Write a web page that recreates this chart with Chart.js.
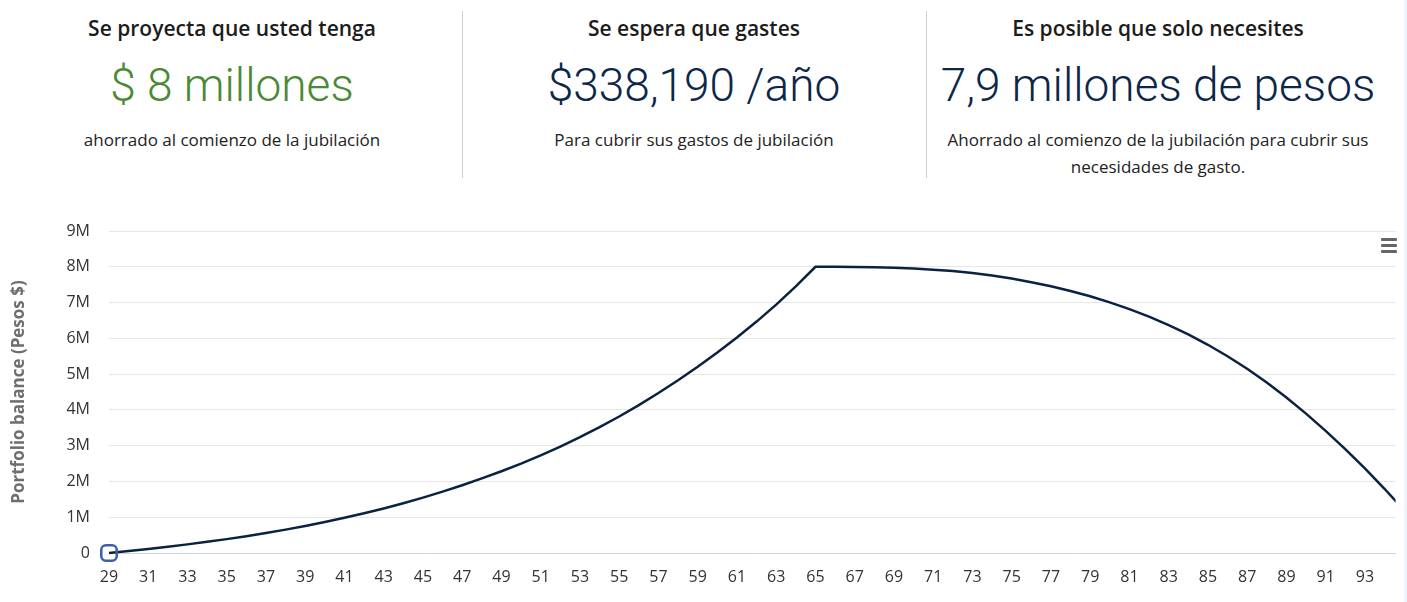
<!DOCTYPE html>
<html><head><meta charset="utf-8">
<script src="https://cdn.jsdelivr.net/npm/chart.js@4.4.0/dist/chart.umd.min.js"></script>
<style>
html,body{margin:0;padding:0;background:#fff;width:1407px;height:602px;overflow:hidden;font-family:"Open Sans",sans-serif;}
.col{position:absolute;top:0;width:464px;height:190px;text-align:center;}
.t{position:absolute;left:0;right:0;top:15px;font-size:21px;line-height:26px;font-weight:600;color:#1c1c1c;}
.big{position:absolute;left:0;right:0;top:58px;font-family:Roboto,sans-serif;font-weight:300;font-size:46px;line-height:54px;color:#0c2749;white-space:nowrap;}
.sub{position:absolute;left:0;right:0;top:126px;font-size:17px;line-height:27px;color:#222;}
.vdiv{position:absolute;top:11px;height:167px;width:1px;background:#d0d0d0;}
#wrap{position:absolute;left:0;top:200px;width:1407px;height:402px;}
.menu{position:absolute;left:1381px;width:16px;height:3px;background:#666;border-radius:1px;}
.edge{position:absolute;left:1404px;top:0;width:3px;height:602px;background:#eef4fb;}
</style></head>
<body>
<div class="col" style="left:0">
  <div class="t">Se proyecta que usted tenga</div>
  <div class="big" style="color:#4b8a35">$ 8 millones</div>
  <div class="sub">ahorrado al comienzo de la jubilación</div>
</div>
<div class="vdiv" style="left:462px"></div>
<div class="col" style="left:462px">
  <div class="t">Se espera que gastes</div>
  <div class="big">$338,190 /año</div>
  <div class="sub">Para cubrir sus gastos de jubilación</div>
</div>
<div class="vdiv" style="left:926px"></div>
<div class="col" style="left:926px">
  <div class="t">Es posible que solo necesites</div>
  <div class="big">7,9 millones de pesos</div>
  <div class="sub">Ahorrado al comienzo de la jubilación para cubrir sus<br>necesidades de gasto.</div>
</div>
<div id="wrap"><canvas id="c"></canvas></div>
<div class="menu" style="top:238px"></div>
<div class="menu" style="top:244px"></div>
<div class="menu" style="top:250px"></div>
<div class="edge"></div>
<script>
const ages = [29,30,31,32,33,34,35,36,37,38,39,40,41,42,43,44,45,46,47,48,49,50,51,52,53,54,55,56,57,58,59,60,61,62,63,64,65,66,67,68,69,70,71,72,73,74,75,76,77,78,79,80,81,82,83,84,85,86,87,88,89,90,91,92,93,94,95];
const balanceMillions = [0,0.055,0.113,0.175,0.241,0.312,0.388,0.470,0.558,0.653,0.755,0.865,0.983,1.110,1.246,1.392,1.548,1.715,1.894,2.086,2.286,2.500,2.729,2.974,3.236,3.516,3.815,4.133,4.471,4.829,5.207,5.605,6.025,6.468,6.943,7.453,8.000,8.000,7.995,7.985,7.970,7.950,7.920,7.880,7.825,7.755,7.670,7.570,7.455,7.325,7.175,7.005,6.815,6.605,6.370,6.110,5.820,5.500,5.150,4.765,4.345,3.895,3.415,2.905,2.365,1.795,1.195];
const xTickAges = [29,31,33,35,37,39,41,43,45,47,49,51,53,55,57,59,61,63,65,67,69,71,73,75,77,79,81,83,85,87,89,91,93];
const yTickValues = [0,1000000,2000000,3000000,4000000,5000000,6000000,7000000,8000000,9000000];
const yTickLabels = ['0','1M','2M','3M','4M','5M','6M','7M','8M','9M'];
const xMin = 29, xMax = 94.56;
const yTitle = 'Portfolio balance (Pesos $)';

const points = ages.map((a,i)=>({x:a, y:balanceMillions[i]*1000000}));

new Chart(document.getElementById('c'), {
  type:'line',
  data:{datasets:[{
    data:points,
    borderColor:'#0a2242',
    borderWidth:2.5,
    tension:0,
    fill:false,
    clip:{left:12,bottom:12,top:0,right:0},
    pointStyle:'rectRounded',
    pointRadius:ctx=>ctx.dataIndex===0?9:0,
    pointHoverRadius:ctx=>ctx.dataIndex===0?9:0,
    pointBorderColor:'#3d5ea8',
    pointBackgroundColor:'rgba(255,255,255,0)',
    pointBorderWidth:2.5
  }]},
  options:{
    responsive:true,maintainAspectRatio:false,animation:false,
    layout:{padding:{left:0,right:10,top:31,bottom:0}},
    plugins:{legend:{display:false},tooltip:{enabled:false}},
    scales:{
      x:{type:'linear',min:xMin,max:xMax,
        afterBuildTicks:ax=>{ax.ticks=xTickAges.map(v=>({value:v}));},
        afterFit:s=>{s.height=49;},
        grid:{display:false,drawTicks:false},
        border:{display:true,color:'#ccd6eb',width:1},
        ticks:{autoSkip:false,maxRotation:0,padding:15,color:'#333',font:{family:'"Open Sans"',size:16},callback:v=>String(v)}
      },
      y:{min:0,max:9000000,
        afterBuildTicks:ax=>{ax.ticks=yTickValues.map(v=>({value:v}));},
        afterFit:s=>{s.width=109;},
        grid:{color:'#e6e6e6',lineWidth:1,drawTicks:false},
        border:{display:false},
        ticks:{padding:19,color:'#333',font:{family:'"Open Sans"',size:16},callback:(v)=>yTickLabels[yTickValues.indexOf(v)]},
        title:{display:true,text:yTitle,color:'#6e6e6e',font:{family:'"Open Sans"',size:17,weight:'bold'},padding:{top:9,bottom:0}}
      }
    }
  }
});
</script>
</body></html>
